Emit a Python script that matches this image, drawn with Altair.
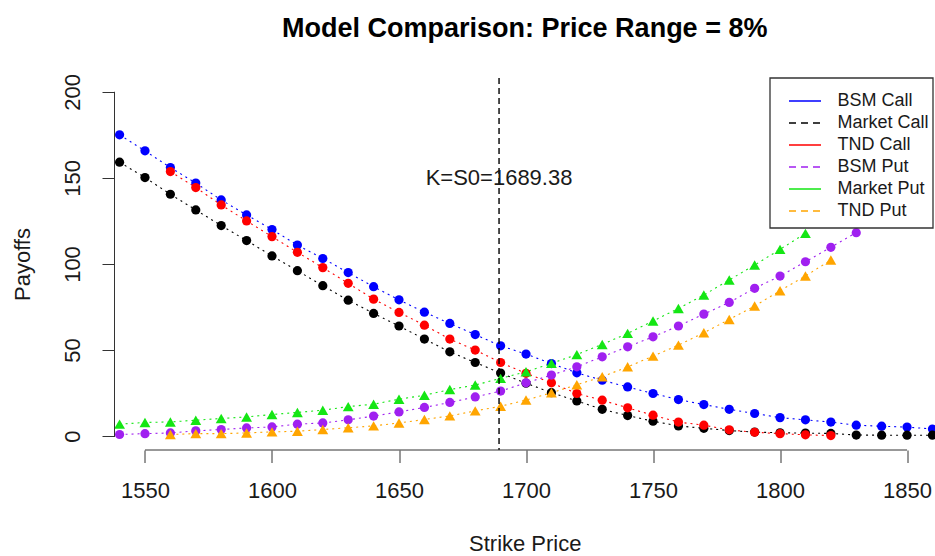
import altair as alt
import pandas as pd

FONT = "Liberation Sans"

# Spot price / at-the-money strike
S0 = 1689.38

# Strike grids for each series
strikes_all = list(range(1540, 1861, 10))      # 1540 .. 1860
strikes_tnd = list(range(1560, 1821, 10))      # 1560 .. 1820
strikes_bsm_put = list(range(1540, 1831, 10))  # 1540 .. 1830
strikes_mkt_put = list(range(1540, 1811, 10))  # 1540 .. 1810

# Payoffs
bsm_call = [175, 165.7, 156, 147, 137.2, 128.5, 120, 111, 103.2, 95, 86.8, 79.2,
            72, 65.5, 59, 52.5, 47.7, 42.2, 36.8, 32.5, 28.6, 24.8, 21.3, 18.4,
            15.6, 13.2, 10.8, 9.5, 8.2, 6.4, 5.8, 5.3, 4.2]
market_call = [159.1, 150.2, 140.5, 131.4, 122.3, 113.6, 104.7, 96.1, 87.4, 79,
               71.3, 64, 56.4, 49, 42.8, 36.7, 30.8, 25.3, 20.5, 15.6, 12.0, 8.7,
               6.0, 4.6, 3.3, 2.4, 2.0, 1.8, 1.6, 0.7, 0.6, 0.6, 0.6]
tnd_call = [153.7, 144.4, 134.3, 125, 115.9, 106.8, 97.9, 88.8, 79.6, 71.9, 64.5,
            56.4, 50, 42.8, 36.5, 31, 24.8, 20.9, 16.5, 12.2, 8.2, 6.4, 3.7, 2.3,
            1.5, 0.8, 0.4]
bsm_put = [1, 1.5, 1.9, 3.1, 3.9, 4.8, 5.4, 7, 7.7, 9.5, 11.7, 14.1, 16.7, 19.6,
           22.8, 26.2, 31, 35.5, 40.3, 46.1, 51.9, 57.7, 64, 70.9, 77.7, 85.9, 93,
           101.3, 109.7, 118.2]
market_put = [7, 8, 8.3, 9.3, 10.3, 11.2, 12.6, 13.8, 15.1, 17.2, 18.6, 21.5, 23.8,
              27.1, 29.7, 33.6, 37.4, 42.3, 47.4, 53.3, 59.7, 66.9, 74.2, 82, 90.7,
              99.4, 108.5, 117.8]
tnd_put = [1, 1.5, 1.5, 1.9, 2.5, 2.9, 3.9, 4.9, 6, 7.7, 9.7, 11.8, 14.7, 17.4, 21,
           25.2, 29.9, 34.5, 40.3, 46.5, 52.9, 60.1, 67.8, 75.6, 84.5, 93, 102.3]

series_names = ["BSM Call", "Market Call", "TND Call", "BSM Put", "Market Put", "TND Put"]
series_colors = ["#0000FF", "#000000", "#FF0000", "#A020F0", "#14E614", "#FFA500"]
legend_dashes = [[1, 0], [7, 5], [1, 0], [7, 5], [1, 0], [7, 5]]

x_ticks = [1550, 1600, 1650, 1700, 1750, 1800, 1850]
y_ticks = [0, 50, 100, 150, 200]

series = [
    ("BSM Call", strikes_all, bsm_call, "circle"),
    ("Market Call", strikes_all, market_call, "circle"),
    ("TND Call", strikes_tnd, tnd_call, "circle"),
    ("BSM Put", strikes_bsm_put, bsm_put, "circle"),
    ("Market Put", strikes_mkt_put, market_put, "triangle-up"),
    ("TND Put", strikes_tnd, tnd_put, "triangle-up"),
]
rows = []
for order, (name, ks, vals, shape) in enumerate(series):
    for k, v in zip(ks, vals):
        rows.append({"strike": k, "payoff": v, "series": name, "shape": shape, "order": order})
df = pd.DataFrame(rows)

W, H = 820.5, 372

x_scale = alt.Scale(domain=[1538, 1861], nice=False, zero=False)
y_scale = alt.Scale(domain=[-8, 208], nice=False, zero=False)
color_scale = alt.Scale(domain=series_names, range=series_colors)
dash_scale = alt.Scale(domain=series_names, range=legend_dashes)

x_axis = alt.Axis(
    values=x_ticks, format="d", domain=False, grid=False, tickSize=12.5, tickColor="#333",
    labelFont=FONT, labelFontSize=22, labelColor="#1a1a1a", labelPadding=18,
    labelBaseline="top", labelFlush=False,
    title="Strike Price", titleFont=FONT, titleFontSize=22, titleFontWeight="normal",
    titleColor="#1a1a1a", titleBaseline="alphabetic", titleY=100.8,
)
y_axis = alt.Axis(
    values=y_ticks, format="d", domain=False, grid=False, tickSize=12.5, tickColor="#333",
    labelFont=FONT, labelFontSize=22, labelColor="#1a1a1a", labelPadding=23,
    labelAngle=270, labelAlign="center", labelBaseline="alphabetic", labelFlush=False,
    title="Payoffs", titleFont=FONT, titleFontSize=22, titleFontWeight="normal",
    titleColor="#1a1a1a", titleAngle=270, titleBaseline="alphabetic",
    titleX=-84.7, titleY=186,
)

x_enc = alt.X("strike:Q", scale=x_scale, axis=x_axis)
y_enc = alt.Y("payoff:Q", scale=y_scale, axis=y_axis)

base = alt.Chart(df)

# dotted connecting lines
lines = base.mark_line(strokeDash=[2, 4], strokeWidth=1.1).encode(
    x=x_enc, y=y_enc,
    color=alt.Color("series:N", scale=color_scale, legend=None),
    detail="series:N",
)

# markers, drawn in series order
points = base.mark_point(filled=True, opacity=1, strokeWidth=0).encode(
    x=x_enc, y=y_enc,
    color=alt.Color("series:N", scale=color_scale, legend=None),
    shape=alt.Shape("shape:N", scale=None),
    size=alt.condition("datum.shape == 'circle'", alt.value(85), alt.value(118)),
    order=alt.Order("order:Q"),
)

# at-the-money strike marker
s0_df = pd.DataFrame({"k": [S0], "y": [150], "label": [f"K=S0={S0}"]})
s0_rule = alt.Chart(s0_df).mark_rule(strokeDash=[6, 4], strokeWidth=1.4, color="#000").encode(
    x=alt.X("k:Q", scale=x_scale)
)
s0_text = alt.Chart(s0_df).mark_text(
    font=FONT, fontSize=22, color="#1a1a1a", align="center", baseline="middle"
).encode(x=alt.X("k:Q", scale=x_scale), y=alt.Y("y:Q", scale=y_scale), text="label:N")

# axis lines spanning first to last tick
xline_df = pd.DataFrame({"a": [min(x_ticks)], "b": [max(x_ticks)]})
x_line = alt.Chart(xline_df).mark_rule(color="#333", strokeWidth=1).encode(
    x=alt.X("a:Q", scale=x_scale), x2="b:Q", y=alt.value(H)
)
yline_df = pd.DataFrame({"a": [min(y_ticks)], "b": [max(y_ticks)]})
y_line = alt.Chart(yline_df).mark_rule(color="#333", strokeWidth=1).encode(
    y=alt.Y("a:Q", scale=y_scale), y2="b:Q", x=alt.value(0)
)

# boxed legend in the top-right corner of the plot
LEG_LEFT, LEG_RIGHT, LEG_TOP, LEG_BOTTOM = 655.5, 818.5, 0, 150
ROW0, ROW_STEP = 23, 22
SYM_X0, SYM_X1, LABEL_X = 674.5, 706.5, 723

legend_df = pd.DataFrame({"series": series_names, "row": list(range(len(series_names)))})
legend_base = alt.Chart(legend_df).transform_calculate(
    ypx=f"{ROW0} + {ROW_STEP} * datum.row"
)
legend_box = alt.Chart(pd.DataFrame({"box": [1]})).mark_rect(
    fill="white", stroke="#333", strokeWidth=1.3
).encode(
    x=alt.value(LEG_LEFT), x2=alt.value(LEG_RIGHT),
    y=alt.value(LEG_TOP), y2=alt.value(LEG_BOTTOM),
)
legend_lines = legend_base.mark_rule(strokeWidth=1.3).encode(
    x=alt.value(SYM_X0), x2=alt.value(SYM_X1),
    y=alt.Y("ypx:Q", scale=None),
    color=alt.Color("series:N", scale=color_scale, legend=None),
    strokeDash=alt.StrokeDash("series:N", scale=dash_scale, legend=None),
)
legend_labels = legend_base.mark_text(
    font=FONT, fontSize=18, color="#1a1a1a", align="left", baseline="middle"
).encode(
    x=alt.value(LABEL_X),
    y=alt.Y("ypx:Q", scale=None),
    text="series:N",
)

chart = alt.layer(
    lines, points, s0_rule, s0_text, x_line, y_line,
    legend_box, legend_lines, legend_labels,
).properties(
    width=W, height=H,
    autosize="none",
    padding={"left": 114.5, "top": 78, "right": 0, "bottom": 106},
    background="white",
    title=alt.TitleParams(
        text="Model Comparison: Price Range = 8%", font=FONT, fontSize=27,
        fontWeight="bold", color="#000", anchor="middle", frame="group",
        baseline="alphabetic", offset=9,
    ),
).configure_view(stroke=None)

chart.save("out.html", embed_options={"renderer": "svg", "actions": False})
